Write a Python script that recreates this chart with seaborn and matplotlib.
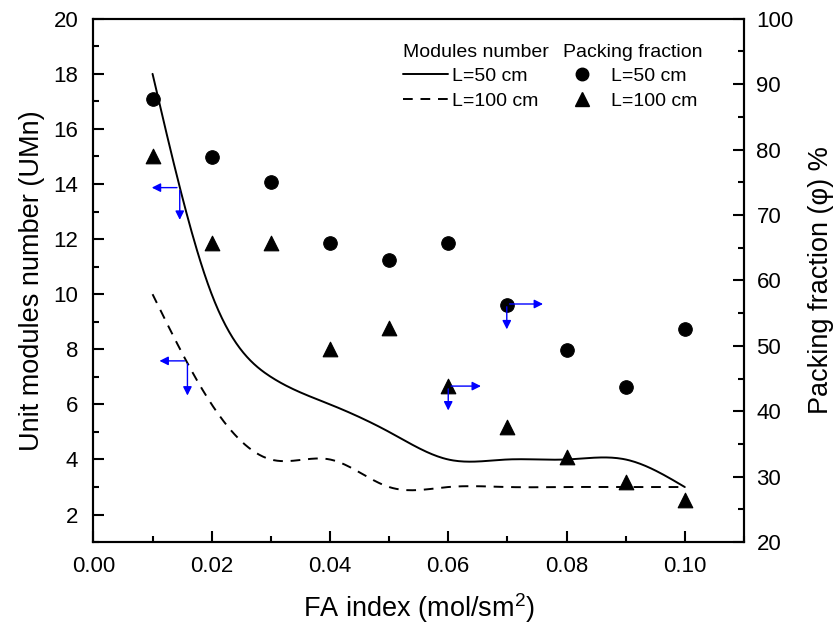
import numpy as np
import pandas as pd
import matplotlib
matplotlib.use("Agg")
import matplotlib.pyplot as plt
import seaborn as sns
from matplotlib.lines import Line2D
from matplotlib.ticker import MultipleLocator

# values
fa_index = [0.01, 0.02, 0.03, 0.04, 0.05, 0.06, 0.07, 0.08, 0.09, 0.10]
modules_50 = [18, 10, 7, 6, 5, 4, 4, 4, 4, 3]
modules_100 = [10, 6, 4, 4, 3, 3, 3, 3, 3, 3]
packing_50 = [87.7, 78.9, 75.1, 65.8, 63.1, 65.8, 56.3, 49.3, 43.7, 52.6]
packing_100 = [79.1, 65.8, 65.8, 49.5, 52.7, 43.9, 37.6, 33.0, 29.2, 26.4]

# blue arrows: (x0, y0, x_end, y_end_down, axis)
arrows = [
    (0.0146, 13.87, 0.0094, 12.6, "left"),
    (0.0159, 7.58, 0.0107, 6.22, "left"),
    (0.0699, 56.4, 0.0765, 52.1, "right"),
    (0.0600, 43.85, 0.0660, 39.7, "right"),
]


def natural_spline(x, y, n=300):
    # natural cubic spline, like the "spline" connect in Origin
    x = np.asarray(x, float)
    y = np.asarray(y, float)
    k = len(x)
    h = np.diff(x)
    A = np.zeros((k, k))
    b = np.zeros(k)
    A[0, 0] = A[-1, -1] = 1
    for i in range(1, k - 1):
        A[i, i - 1] = h[i - 1]
        A[i, i] = 2 * (h[i - 1] + h[i])
        A[i, i + 1] = h[i]
        b[i] = 6 * ((y[i + 1] - y[i]) / h[i] - (y[i] - y[i - 1]) / h[i - 1])
    M = np.linalg.solve(A, b)
    xs = np.linspace(x[0], x[-1], n)
    idx = np.clip(np.searchsorted(x, xs) - 1, 0, k - 2)
    x0, x1 = x[idx], x[idx + 1]
    hh = x1 - x0
    t0, t1 = x1 - xs, xs - x0
    ys = (M[idx] * t0**3 + M[idx + 1] * t1**3) / (6 * hh) \
        + (y[idx] / hh - M[idx] * hh / 6) * t0 \
        + (y[idx + 1] / hh - M[idx + 1] * hh / 6) * t1
    return xs, ys


sns.set_style("ticks")
plt.rcParams["font.family"] = ["Liberation Sans", "DejaVu Sans"]
plt.rcParams["mathtext.fontset"] = "custom"
plt.rcParams["mathtext.rm"] = "Liberation Sans"
for key in ["text.color", "axes.labelcolor", "xtick.color", "ytick.color",
            "axes.edgecolor"]:
    plt.rcParams[key] = "black"

fig = plt.figure(figsize=(8.34, 6.26), dpi=100)
ax = fig.add_axes([0.112, 0.134, 0.780, 0.836])
ax2 = ax.twinx()

xs, ys50 = natural_spline(fa_index, modules_50)
_, ys100 = natural_spline(fa_index, modules_100)
curves = pd.DataFrame({"x": xs, "L50": ys50, "L100": ys100})

sns.lineplot(data=curves, x="x", y="L50", ax=ax, color="black", linewidth=1.4)
sns.lineplot(data=curves, x="x", y="L100", ax=ax, color="black", linewidth=1.4,
             linestyle=(0, (5, 4)))

pts = pd.DataFrame({"x": fa_index, "p50": packing_50, "p100": packing_100})
sns.scatterplot(data=pts, x="x", y="p50", ax=ax2, marker="o", s=95,
                color="black", edgecolor="black", zorder=3)
sns.scatterplot(data=pts, x="x", y="p100", ax=ax2, marker="^", s=110,
                color="black", edgecolor="black", zorder=3)

ax.set_xlim(0, 0.11)
ax.set_ylim(1, 20)
ax2.set_ylim(20, 100)

ax.xaxis.set_major_locator(MultipleLocator(0.02))
ax.xaxis.set_minor_locator(MultipleLocator(0.01))
ax.yaxis.set_major_locator(MultipleLocator(2))
ax.yaxis.set_minor_locator(MultipleLocator(1))
ax2.yaxis.set_major_locator(MultipleLocator(10))
ax2.yaxis.set_minor_locator(MultipleLocator(5))
ax.xaxis.set_major_formatter(plt.FormatStrFormatter("%.2f"))

for a in (ax, ax2):
    for s in a.spines.values():
        s.set_linewidth(1.5)
        s.set_color("black")
        s.set_visible(True)
    a.tick_params(which="major", direction="in", length=8, width=1.5,
                  labelsize=16, color="black", labelcolor="black")
    a.tick_params(which="minor", direction="in", length=4, width=1.5,
                  color="black")
ax.tick_params(axis="both", which="both", top=False, right=False)
ax.tick_params(axis="x", which="major", pad=10)
ax.tick_params(axis="y", which="major", pad=11)
ax2.tick_params(axis="y", which="both", left=False, right=True)
ax2.tick_params(axis="y", which="major", pad=9)

ax.set_xlabel("FA index (mol/sm$^2$)", fontsize=19.5, labelpad=10, color="black")
ax.set_ylabel("Unit modules number (UMn)", fontsize=19.5, labelpad=6,
              color="black")
ax2.set_ylabel("Packing fraction (φ) %", fontsize=19.5, labelpad=10,
               color="black")

for x0, y0, xe, ye, side in arrows:
    a = ax if side == "left" else ax2
    kw = dict(arrowstyle="-|>", color="blue", lw=1.0, mutation_scale=13)
    a.annotate("", xy=(xe, y0), xytext=(x0, y0), arrowprops=kw)
    a.annotate("", xy=(x0, ye), xytext=(x0, y0), arrowprops=kw)

# legends
line_handles = [
    Line2D([], [], color="black", lw=1.4),
    Line2D([], [], color="black", lw=1.4, linestyle=(0, (5, 4))),
]
leg1 = ax2.legend(line_handles, ["L=50 cm", "L=100 cm"], title="Modules number",
                  loc="upper left", bbox_to_anchor=(0.483, 0.93),
                  bbox_transform=fig.transFigure, frameon=False, fontsize=14,
                  title_fontsize=14, handlelength=2.3, handletextpad=0.25,
                  labelspacing=0.35, borderpad=0, borderaxespad=0,
                  alignment="left")
ax2.add_artist(leg1)
marker_handles = [
    Line2D([], [], color="black", marker="o", linestyle="", markersize=9),
    Line2D([], [], color="black", marker="^", linestyle="", markersize=10),
]
ax2.legend(marker_handles, ["L=50 cm", "L=100 cm"], title="Packing fraction",
           loc="upper left", bbox_to_anchor=(0.675, 0.93),
           bbox_transform=fig.transFigure, frameon=False, fontsize=14,
           title_fontsize=14, handlelength=2.0, handletextpad=0.45,
           labelspacing=0.35, borderpad=0, borderaxespad=0, alignment="left")

ax.set_zorder(ax2.get_zorder() + 1)
ax.patch.set_visible(False)

plt.savefig("out.png", dpi=100)
